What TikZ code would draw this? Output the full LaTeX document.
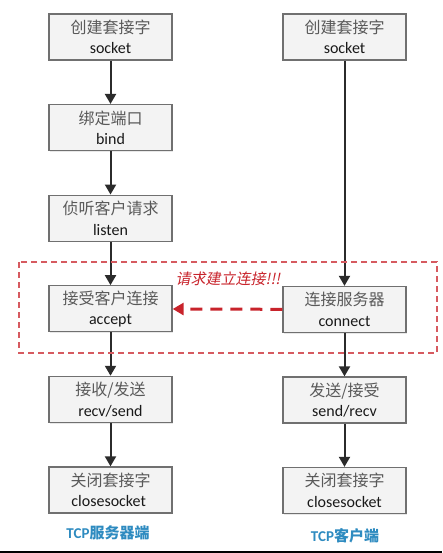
\documentclass[tikz,border=0pt]{standalone}
\usepackage{fontspec}
\setmainfont{Carlito}
\newfontfamily\cjk{Noto Sans CJK SC}
\newfontfamily\cjkslant[FakeSlant=0.2]{Noto Sans CJK SC}
\usetikzlibrary{arrows.meta,shadows}
\definecolor{boxline}{HTML}{707070}
\definecolor{boxfill}{HTML}{F3F3F3}
\definecolor{flow}{HTML}{2B2B2B}
\definecolor{req}{HTML}{C8232B}
\definecolor{side}{HTML}{2E8BC0}
\begin{document}
\begin{tikzpicture}[x=1pt,y=-1pt,
		box/.style={draw=boxline,fill=boxfill,line width=1.3pt,minimum width=123pt,minimum height=46pt,
			inner sep=0pt,align=center,font=\fontsize{16}{20.5}\selectfont,
			drop shadow={opacity=.18,shadow xshift=1.2pt,shadow yshift=-1.2pt}},
		arr/.style={draw=flow,line width=2pt,-{Triangle[width=11pt,length=10pt]}}]
		\useasboundingbox (0,0) rectangle (442,553);

		% server side
		\foreach \zh/\en[count=\i from 1] in {
				创建套接字/socket,
				绑定端口/bind,
				侦听客户请求/listen,
				接受客户连接/accept,
				{接收/发送}/{recv/send},
				关闭套接字/closesocket
			}
		\node at(110.5,{37+90.6*(\i-1)})[box](L\i){{\cjk\color{black!65}\zh}\\\color{black!90}\en};

		% client side
		\node at(344.5,37)[box](R1){{\cjk\color{black!65}创建套接字}\\\color{black!90}socket};
		\node at(344.5,309.5)[box](R2){{\cjk\color{black!65}连接服务器}\\\color{black!90}connect};
		\node at(344.5,400)[box](R3){{\cjk\color{black!65}发送/接受}\\\color{black!90}send/recv};
		\node at(344.5,490.5)[box](R4){{\cjk\color{black!65}关闭套接字}\\\color{black!90}closesocket};

		\foreach \i[evaluate=\i as\j using int(\i+1)] in {1,...,5}
		\draw[arr] (L\i) -- (L\j);
		\foreach \i[evaluate=\i as\j using int(\i+1)] in {1,...,3}
		\draw[arr] (R\i) -- (R\j);

		% connection request
		\draw[draw=req!75,line width=1.3pt,dash pattern=on 6pt off 4pt] (19,262) rectangle (437,353);
		\draw[draw=req,line width=3pt,dash pattern=on 12pt off 8pt,-{Triangle[width=12pt,length=11pt]}] (R2) -- (L4);
		\node at(228,279)[text=req,font=\cjkslant\fontsize{15}{16}\selectfont](request){请求建立连接!!!};

		\node at(108,533)[text=side,font=\bfseries\fontsize{15}{16}\selectfont](server){TCP{\cjk 服务器端}};
		\node at(345,536)[text=side,font=\bfseries\fontsize{15}{16}\selectfont](client){TCP{\cjk 客户端}};

		\fill[black] (0,550.5) rectangle (442,553);
	\end{tikzpicture}
\end{document}
